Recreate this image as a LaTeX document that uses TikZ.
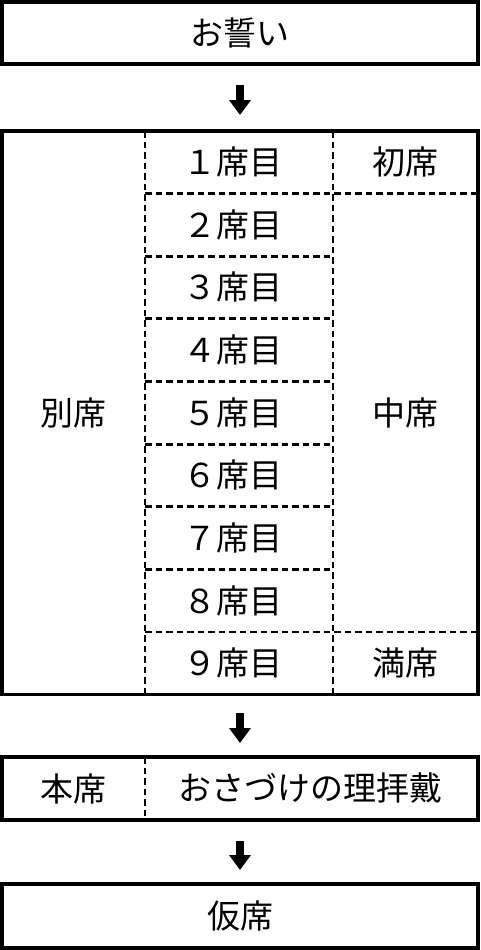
\documentclass[tikz,border=0pt]{standalone}
\usepackage{fontspec}
\setmainfont{Noto Sans CJK JP}
\usetikzlibrary{arrows.meta}
\begin{document}
\begin{tikzpicture}[x=1pt,y=-1pt,
  box/.style={draw,line width=3.2pt,inner sep=0pt,outer sep=0pt,minimum width=476pt},
  sep/.style={line width=2.8pt,dash pattern=on 6.5pt off 4pt},
  lbl/.style={inner sep=0pt,font=\fontsize{33}{38}\selectfont},
  bigarrow/.style={line width=8pt,-{Triangle[width=21pt,length=15pt]}}]
\useasboundingbox (0,0) rectangle (480,950);
% boxes
\node[box,minimum height=62pt] (oath) at (240,33) {};
\node[box,minimum height=563.5pt] (main) at (240,412.75) {};
\node[box,minimum height=63pt] (honseki) at (240,788.5) {};
\node[box,minimum height=64pt] (kaseki) at (240,916) {};
% dashed separators in main box
\draw[sep] (145,131) -- (145,694.5);
\draw[sep] (333,131) -- (333,694.5);
\draw[sep] (145,193.6) -- (478,193.6);
\draw[sep] (145,631.9) -- (478,631.9);
\foreach \yy in {256.2,318.8,381.4,444.1,506.7,569.3}
  \draw[sep] (145,\yy) -- (333,\yy);
\draw[sep] (145,757) -- (145,820);
% texts
\node[lbl] (oatht) at (oath.center) {お誓い};
\node[lbl] (betsu) at (73.5,412.8) {別席};
\node[lbl] (r1) at (233,162.3) {１席目};
\node[lbl] (r2) at (233,224.9) {２席目};
\node[lbl] (r3) at (233,287.5) {３席目};
\node[lbl] (r4) at (233,350.1) {４席目};
\node[lbl] (r5) at (233,412.8) {５席目};
\node[lbl] (r6) at (233,475.4) {６席目};
\node[lbl] (r7) at (233,538.0) {７席目};
\node[lbl] (r8) at (233,600.6) {８席目};
\node[lbl] (r9) at (233,663.2) {９席目};
\node[lbl] (sho) at (405.5,162.3) {初席};
\node[lbl] (chu) at (405.5,412.8) {中席};
\node[lbl] (man) at (405.5,663.2) {満席};
\node[lbl] (hon) at (73.5,788.5) {本席};
\node[lbl] (sazuke) at (310,788.5) {おさづけの理拝戴};
\node[lbl] (kari) at (kaseki.center) {仮席};
% arrows
\draw[bigarrow,shorten <=21pt,shorten >=16pt] (oath.south) -- (main.north);
\draw[bigarrow,shorten <=18.5pt,shorten >=14pt] (main.south) -- (honseki.north);
\draw[bigarrow,shorten <=21pt,shorten >=14pt] (honseki.south) -- (kaseki.north);
\end{tikzpicture}
\end{document}
